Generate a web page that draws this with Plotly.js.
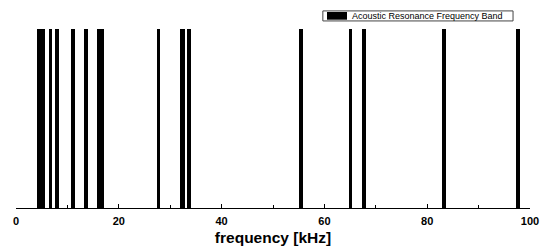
<!DOCTYPE html>
<html>
<head>
<meta charset="utf-8">
<script src="https://cdn.plot.ly/plotly-3.0.1.min.js"></script>
<style>html,body{margin:0;padding:0;background:#fff;}#chart{width:542px;height:248px;}</style>
</head>
<body>
<div id="chart"></div>
<script>
// Acoustic resonance frequency bands (kHz)
const bandStart = [4.1, 6.4, 7.6, 10.7, 13.2, 15.7, 27.4, 32.0, 33.2, 55.1, 64.7, 67.3, 82.9, 97.2];
const bandEnd   = [5.6, 7.1, 8.4, 11.5, 14.1, 17.1, 28.0, 32.8, 34.0, 55.9, 65.4, 68.0, 83.7, 98.1];
const bandLevel = bandStart.map(() => 1);
const tickVals = [0, 20, 40, 60, 80, 100];
const seriesName = 'Acoustic Resonance Frequency Band';

const centers = bandStart.map((s, i) => (s + bandEnd[i]) / 2);
const widths = bandStart.map((s, i) => bandEnd[i] - s);

const traces = [
  {
    type: 'bar', x: centers, y: bandLevel, width: widths, base: 0,
    marker: {color: '#000', line: {width: 0}},
    name: seriesName, showlegend: false, hoverinfo: 'x'
  }
];

// compact legend box (drawn in paper coordinates)
const layout = {
  width: 542, height: 248,
  margin: {l: 16, r: 12, t: 29, b: 40},
  paper_bgcolor: '#fff', plot_bgcolor: '#fff',
  font: {family: 'Liberation Sans, Arial, sans-serif', color: '#000'},
  bargap: 0,
  showlegend: false,
  xaxis: {
    range: [0, 100],
    tickvals: tickVals,
    ticktext: tickVals.map(v => '<b>' + v + '</b>'),
    ticks: 'inside', ticklen: 4, tickcolor: '#000', tickwidth: 1,
    minor: {dtick: 10, ticks: 'inside', ticklen: 3, tickcolor: '#000'},
    showline: true, linecolor: '#000', linewidth: 1,
    showgrid: false, zeroline: false,
    ticklabelstandoff: 3,
    tickfont: {size: 11, color: '#000'},
    title: {text: '<b>frequency [kHz]</b>', font: {size: 15.5, color: '#000'}, standoff: 5}
  },
  yaxis: {
    range: [0, 1], visible: false, fixedrange: true
  },
  shapes: [
    {type: 'rect', xref: 'paper', yref: 'paper', x0: 0.597, x1: 0.967, y0: 1.045, y1: 1.101,
     line: {color: '#444', width: 1}, fillcolor: '#fff', layer: 'above'},
    {type: 'rect', xref: 'paper', yref: 'paper', x0: 0.605, x1: 0.644, y0: 1.052, y1: 1.095,
     line: {width: 0}, fillcolor: '#000', layer: 'above'}
  ],
  annotations: [
    {xref: 'paper', yref: 'paper', x: 0.650, y: 1.073, xanchor: 'left', yanchor: 'middle',
     text: seriesName, showarrow: false, font: {size: 9, color: '#000'}}
  ]
};

Plotly.newPlot('chart', traces, layout, {displayModeBar: false, staticPlot: true});
</script>
</body>
</html>
